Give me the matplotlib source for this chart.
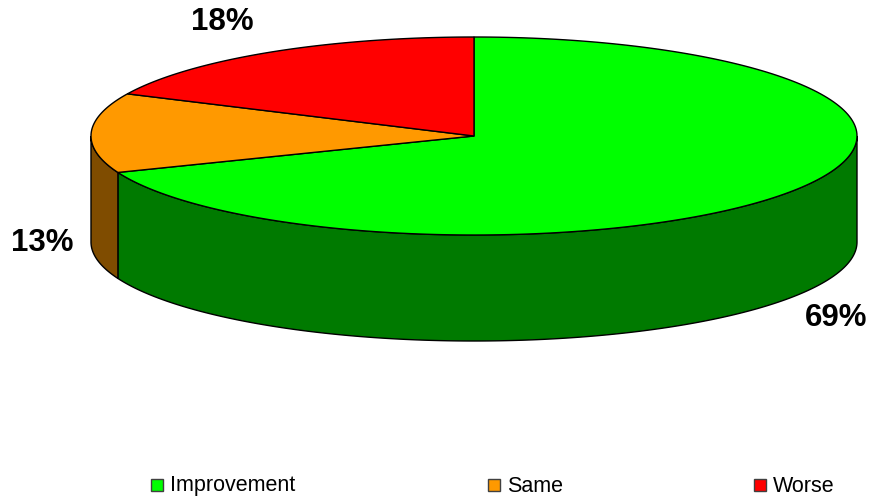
import numpy as np
import matplotlib.pyplot as plt
from matplotlib.patches import Polygon, Rectangle

labels = ["Improvement", "Same", "Worse"]
values = [69, 13, 18]
top_colors = ["#00FF00", "#FF9900", "#FF0000"]
side_colors = ["#007A00", "#7F4C00", "#7F0000"]
pct_labels = ["69%", "13%", "18%"]
pct_pos = [(836, 318), (42, 243), (222, 22)]

# pie geometry in pixel space
cx, cy = 474, 136
rx, ry = 383, 99
depth = 106

fig = plt.figure(figsize=(8.77, 4.97), dpi=100)
ax = fig.add_axes([0, 0, 1, 1])
ax.set_xlim(0, 877)
ax.set_ylim(497, 0)
ax.axis("off")


def arc(t0, t1, dy=0, n=200):
    t = np.radians(np.linspace(t0, t1, n))
    return np.column_stack([cx + rx * np.cos(t), cy - ry * np.sin(t) + dy])


fracs = np.array(values) / sum(values)
starts = 90 - 360 * np.concatenate([[0], np.cumsum(fracs)[:-1]])
ends = starts - 360 * fracs

# side walls (only the front half, angles between 180 and 360 deg)
for s, e, col in zip(starts, ends, side_colors):
    lo, hi = e % 360, s % 360
    if hi <= lo:
        hi += 360
    for base in (0, 360):
        a0 = max(lo, 180 + base)
        a1 = min(hi, 360 + base)
        if a1 > a0:
            top = arc(a0, a1)
            bot = arc(a1, a0, dy=depth)
            ax.add_patch(Polygon(np.vstack([top, bot]), closed=True,
                                 facecolor=col, edgecolor="black", lw=1.0, zorder=1))

# top wedges
for s, e, col in zip(starts, ends, top_colors):
    pts = np.vstack([[cx, cy], arc(s, e)])
    ax.add_patch(Polygon(pts, closed=True, facecolor=col,
                         edgecolor="black", lw=1.0, zorder=2))

for txt, (x, y) in zip(pct_labels, pct_pos):
    ax.text(x, y, txt, ha="center", va="center", fontsize=22.5,
            fontweight="bold", family="Liberation Sans")

# legend
leg_x = [157, 494, 760]
for lab, col, x in zip(labels, top_colors, leg_x):
    ax.add_patch(Rectangle((x - 6, 479), 12, 12, facecolor=col,
                           edgecolor="#404040", lw=1.0))
    ax.text(x + 13, 486, lab, ha="left", va="center", fontsize=15.5,
            family="Liberation Sans")

fig.savefig("out.png", dpi=100)
